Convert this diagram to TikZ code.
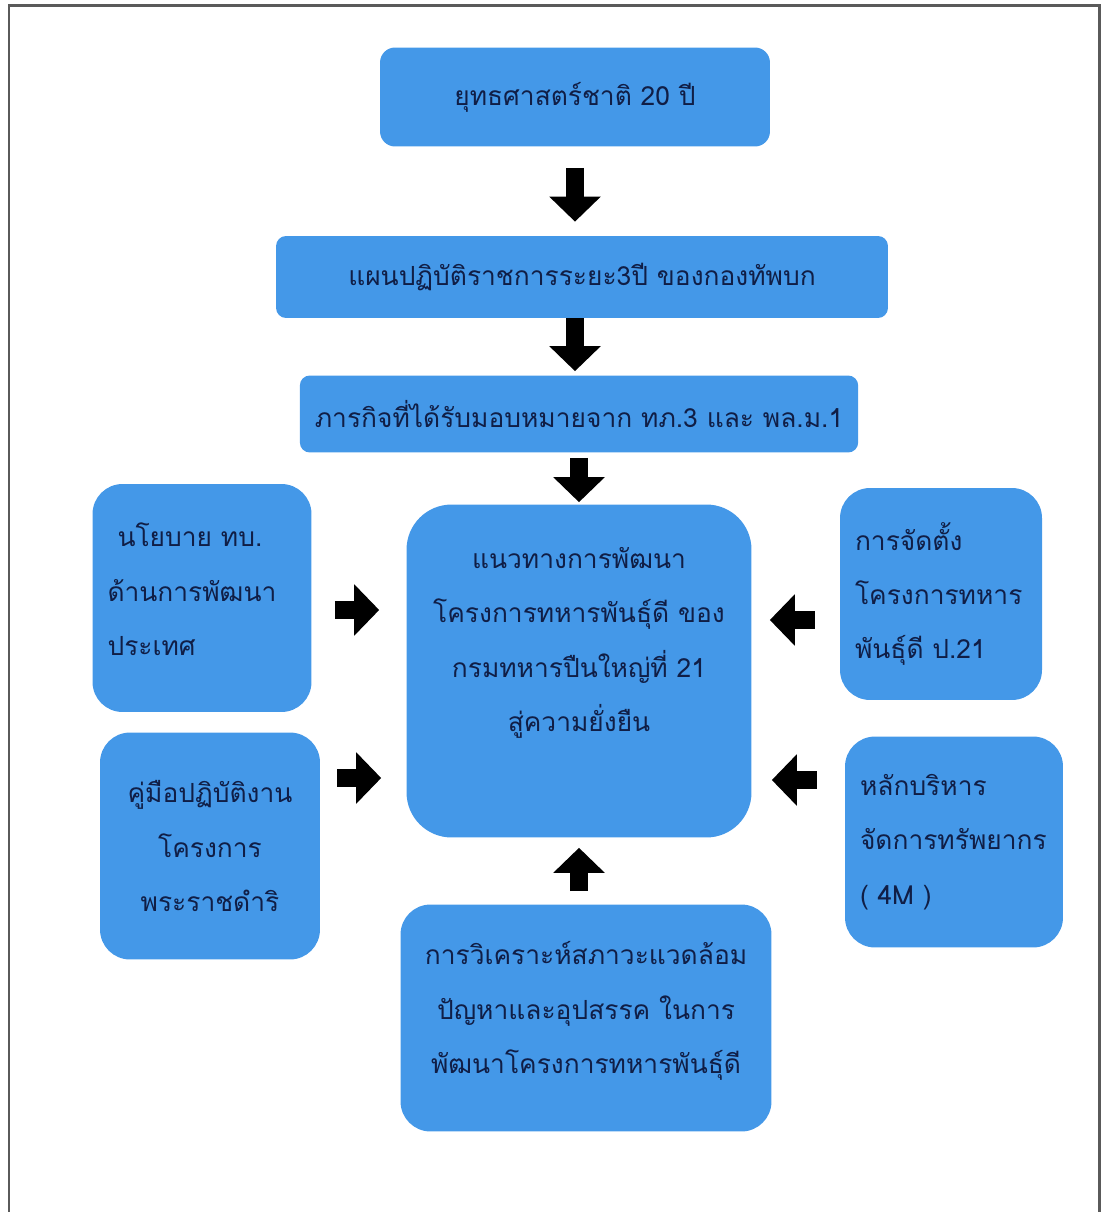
\documentclass[tikz,border=0pt]{standalone}
\usepackage{fontspec}
\newfontfamily\thaifont[Script=Thai]{Loma}
\usepackage{tikz}
\usetikzlibrary{arrows.meta}
\definecolor{boxblue}{RGB}{68,152,232}
\definecolor{textnavy}{RGB}{16,30,70}
\definecolor{framegray}{RGB}{90,90,90}

\tikzset{
  box/.style={fill=boxblue, text=textnavy, inner sep=0.3cm,
    font=\thaifont\fontsize{15}{31}\selectfont},
  blockarrow/.style={line width=0.36cm, black,
    -{Triangle[width=1cm,length=0.5cm]}}
}

\begin{document}
\begin{tikzpicture}[x=0.02cm,y=-0.02cm]
\useasboundingbox (0,0) rectangle (1101,1212);
\draw[framegray, line width=0.06cm] (9,1212) -- (9,6) -- (1099,6) -- (1099,1212); % frame

% top row
\node[box, rounded corners=0.3cm, minimum width=7.8cm, minimum height=1.98cm] (strat) at (575,97) {ยุทธศาสตร์ชาติ 20 ปี};
\node[box, rounded corners=0.2cm, minimum width=12.24cm, minimum height=1.64cm] (plan) at (582,277) {แผนปฏิบัติราชการระยะ3ปี ของกองทัพบก};
\node[box, rounded corners=0.2cm, minimum width=11.1cm, minimum height=1.54cm] (mission) at (579,414) {ภารกิจที่ได้รับมอบหมายจาก ทภ.3 และ พล.ม.1};

% centre
\node[box, rounded corners=0.9cm, inner sep=0.3cm] (guide) at (579,671)
  {\parbox[c][6.06cm][t]{6.3cm}{\centering\vspace*{0.55cm}แนวทางการพัฒนา\\ โครงการทหารพันธุ์ดี ของ\\ กรมทหารปืนใหญ่ที่ 21\\ สู่ความยั่งยืน}};

% left side
\node[box, rounded corners=0.6cm, minimum width=4.38cm] (policy) at (202,598)
  {\parbox[c][3.96cm][c]{3.78cm}{\raggedright\hspace*{0.2cm}นโยบาย ทบ.\\ ด้านการพัฒนา\\ ประเทศ\par\vspace*{0.34cm}}};
\node[box, rounded corners=0.6cm, minimum width=4.4cm, minimum height=4.54cm, text width=3.8cm, align=center] (manual) at (210,846)
  {คู่มือปฏิบัติงาน\\ โครงการ\\ พระราชดำริ};

% right side
\node[box, rounded corners=0.6cm, minimum width=4.04cm, minimum height=4.24cm, text width=3.44cm, align=left] (setup) at (941,594)
  {การจัดตั้ง\\ โครงการทหาร\\ พันธุ์ดี ป.21};
\node[box, rounded corners=0.6cm, minimum width=4.36cm, minimum height=4.22cm, text width=3.76cm, align=left] (resource) at (954,842)
  {หลักบริหาร\\ จัดการทรัพยากร\\ ( 4M )};

% bottom
\node[box, rounded corners=0.6cm, minimum width=7.42cm] (analysis) at (586,1018)
  {\parbox[c][3.94cm][c]{6.82cm}{\centering การวิเคราะห์สภาวะแวดล้อม\\ ปัญหาและอุปสรรค ในการ\\ พัฒนาโครงการทหารพันธุ์ดี\par\vspace*{0.28cm}}};

% arrows
\draw[blockarrow, shorten <=0.42cm, shorten >=0.28cm] (strat.south) -- (strat.south |- plan.north);
\draw[blockarrow, shorten >=0.08cm] ([xshift=-0.14cm]plan.south) -- ([xshift=-0.14cm]plan.south |- mission.north);
\draw[blockarrow, shorten <=0.1cm, shorten >=0.04cm] (mission.south) -- (mission.south |- guide.north);
\draw[blockarrow, shorten <=0.26cm, shorten >=0.2cm] (analysis.north -| guide.south) -- (guide.south);
\coordinate (p1) at ([yshift=-0.24cm]policy.east);
\coordinate (p2) at ([yshift=1.36cm]manual.east);
\coordinate (s1) at ([yshift=-0.52cm]setup.west);
\coordinate (s2) at ([yshift=1.24cm]resource.west);
\draw[blockarrow, shorten <=0.46cm, shorten >=0.54cm] (p1) -- (p1 -| guide.west);
\draw[blockarrow, shorten <=0.34cm, shorten >=0.5cm] (p2) -- (p2 -| guide.west);
\draw[blockarrow, shorten <=0.5cm, shorten >=0.36cm] (s1) -- (s1 -| guide.east);
\draw[blockarrow, shorten <=0.56cm, shorten >=0.4cm] (s2) -- (s2 -| guide.east);
\end{tikzpicture}
\end{document}
